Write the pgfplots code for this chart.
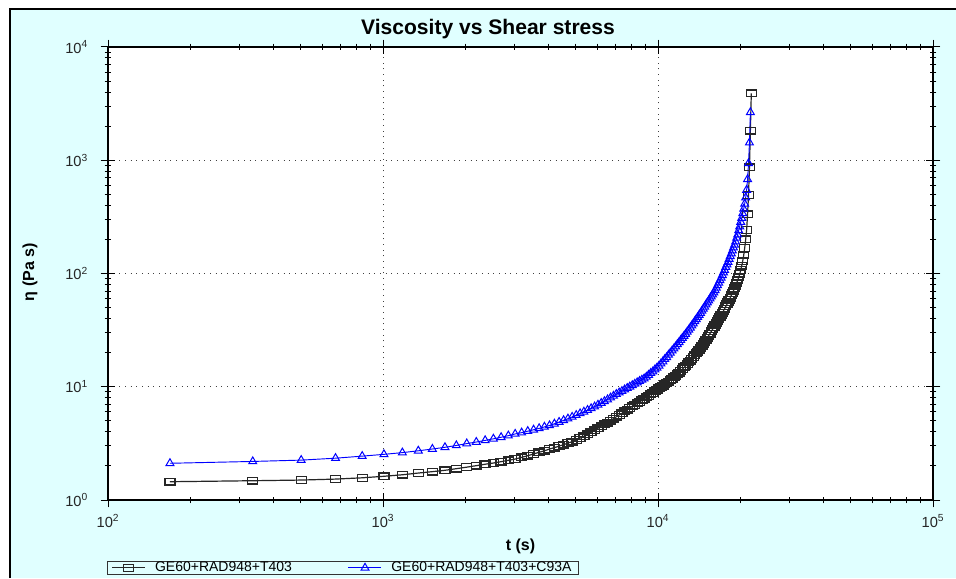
\documentclass[border=0pt]{standalone}
\usepackage{fontspec}
\setmainfont{Liberation Sans}
\usepackage{pgfplots}
\pgfplotsset{compat=1.18}
\definecolor{bgc}{RGB}{224,255,255}
\definecolor{serblue}{RGB}{0,0,255}
\begin{document}
\begin{tikzpicture}
\path[use as bounding box] (0,0) rectangle (717pt,433.5pt);
\fill[white] (0,0) rectangle (717pt,433.5pt);
\fill[bgc] (7.5pt,0) rectangle (717pt,426.75pt);
\draw[black,line width=1pt] (7.5pt,0) -- (7.5pt,426.75pt) -- (717pt,426.75pt);
\begin{axis}[
  at={(81pt,58.5pt)}, anchor=south west,
  scale only axis, width=618.75pt, height=339.75pt,
  xmode=log, ymode=log, log basis x=10, log basis y=10,
  xmin=100, xmax=100000, ymin=1, ymax=10000,
  axis background/.style={fill=white},
  axis line style={black, line width=0.9pt},
  tick align=center,
  major tick length=11pt, minor tick length=5pt,
  tick style={black, line width=0.75pt},
  grid=major,
  major grid style={black!75, line width=0.75pt, dash pattern=on 0.75pt off 3.5pt},
  xticklabel={10\textsuperscript{\pgfmathparse{int(round(\tick))}\pgfmathresult}},
  yticklabel={10\textsuperscript{\pgfmathparse{int(round(\tick))}\pgfmathresult}},
  ticklabel style={font=\fontsize{11}{13}\selectfont, text=black!85},
  yticklabel style={xshift=-6pt},
  xticklabel style={yshift=-2pt},
  title={Viscosity vs Shear stress},
  title style={font=\fontsize{15.8}{18}\selectfont\bfseries, at={(axis description cs:0.4606,1.0222)}, anchor=center},
  xlabel={t (s)},
  xlabel style={font=\fontsize{12}{14}\selectfont\bfseries, at={(axis description cs:0.5,-0.1015)}, anchor=center},
  ylabel={η (Pa s)},
  ylabel style={font=\fontsize{12}{14}\selectfont\bfseries, at={(axis description cs:-0.0945,0.503)}, anchor=center},
  legend columns=2,
  legend image code/.code={\draw[mark repeat=2,mark phase=2,#1] plot coordinates {(0pt,0pt) (12.4pt,0pt) (24.75pt,0pt)};},
  legend style={at={(-0.0012,-0.1656)}, anchor=south west, draw=black!80, line width=0.75pt,
    fill=bgc, font=\fontsize{10.5}{11}\selectfont, inner xsep=3pt, inner ysep=0pt,
    nodes={inner ysep=0.6pt},
    /tikz/every odd column/.append style={column sep=5pt},
    /tikz/every even column/.append style={column sep=40pt}},
]
\addplot[black!85, line width=0.9pt, mark=square, mark size=3.75pt,
  mark options={solid, yscale=0.67, line width=1pt, fill=none}] table {
t eta
168 1.45
336 1.48
504 1.50
672 1.53
840 1.57
1008 1.62
1176 1.67
1344 1.73
1512 1.78
1680 1.83
1848 1.89
2016 1.95
2184 2.01
2352 2.07
2520 2.12
2688 2.18
2856 2.24
3024 2.30
3192 2.38
3360 2.46
3528 2.55
3696 2.64
3864 2.72
4032 2.82
4200 2.90
4368 2.99
4536 3.08
4704 3.18
4872 3.27
5040 3.38
5208 3.52
5376 3.66
5544 3.81
5712 3.96
5880 4.13
6048 4.30
6216 4.47
6384 4.65
6552 4.83
6720 5.02
6888 5.23
7056 5.43
7224 5.64
7392 5.83
7560 6.05
7728 6.27
7896 6.49
8064 6.71
8232 6.92
8400 7.13
8568 7.35
8736 7.57
8904 7.81
9072 8.05
9240 8.30
9408 8.57
9576 8.83
9744 9.11
9912 9.40
10080 9.67
10248 9.93
10416 10.2
10584 10.5
10752 10.8
10920 11.1
11088 11.4
11256 11.7
11424 12.1
11592 12.5
11760 12.9
11928 13.3
12096 13.8
12264 14.3
12432 14.8
12600 15.3
12768 15.8
12936 16.4
13104 17.0
13272 17.6
13440 18.3
13608 19.0
13776 19.7
13944 20.4
14112 21.2
14280 22.1
14448 23.0
14616 24.0
14784 24.9
14952 26.0
15120 27.1
15288 28.3
15456 29.5
15624 30.8
15792 32.1
15960 33.6
16128 34.9
16296 36.4
16464 37.9
16632 39.4
16800 41.1
16968 42.9
17136 44.8
17304 46.8
17472 48.9
17640 51.2
17808 53.5
17976 55.8
18144 58.5
18312 61.2
18480 64.3
18648 67.3
18816 70.5
18984 73.8
19152 78.0
19320 82.4
19488 87.3
19656 92.3
19824 98.9
19992 107
20160 117
20328 129
20496 145
20664 168
20832 200
21000 242
21168 333
21336 493
21504 867
21672 1820
21840 3900
};
\addlegendentry{GE60+RAD948+T403}
\addplot[serblue, line width=0.7pt, mark=triangle, mark size=3.4pt,
  mark options={solid, line width=0.75pt, fill=none}] table {
t eta
168 2.11
336 2.19
504 2.25
672 2.34
840 2.44
1008 2.53
1176 2.62
1344 2.72
1512 2.82
1680 2.92
1848 3.03
2016 3.15
2184 3.25
2352 3.36
2520 3.47
2688 3.58
2856 3.70
3024 3.83
3192 3.93
3360 4.05
3528 4.17
3696 4.29
3864 4.42
4032 4.55
4200 4.71
4368 4.88
4536 5.05
4704 5.22
4872 5.41
5040 5.61
5208 5.81
5376 6.01
5544 6.22
5712 6.44
5880 6.67
6048 6.92
6216 7.18
6384 7.43
6552 7.71
6720 8.00
6888 8.30
7056 8.61
7224 8.87
7392 9.14
7560 9.44
7728 9.73
7896 10.0
8064 10.3
8232 10.6
8400 10.9
8568 11.2
8736 11.5
8904 11.8
9072 12.2
9240 12.7
9408 13.2
9576 13.6
9744 14.2
9912 14.7
10080 15.3
10248 16.0
10416 16.7
10584 17.5
10752 18.2
10920 19.1
11088 19.9
11256 20.8
11424 21.7
11592 22.6
11760 23.7
11928 24.7
12096 25.8
12264 26.9
12432 28.0
12600 29.2
12768 30.5
12936 31.8
13104 33.2
13272 34.7
13440 36.1
13608 37.8
13776 39.4
13944 41.1
14112 42.9
14280 44.7
14448 46.7
14616 48.7
14784 50.8
14952 53.1
15120 55.3
15288 57.5
15456 60.0
15624 62.5
15792 65.0
15960 67.8
16128 71.1
16296 74.6
16464 78.5
16632 82.6
16800 86.9
16968 91.4
17136 96.4
17304 102
17472 107
17640 114
17808 120
17976 126
18144 134
18312 142
18480 150
18648 159
18816 169
18984 179
19152 191
19320 206
19488 220
19656 240
19824 260
19992 285
20160 309
20328 339
20496 372
20664 412
20832 468
21000 546
21168 679
21336 940
21504 1430
21672 2650
};
\addlegendentry{GE60+RAD948+T403+C93A}
\end{axis}
\end{tikzpicture}
\end{document}
